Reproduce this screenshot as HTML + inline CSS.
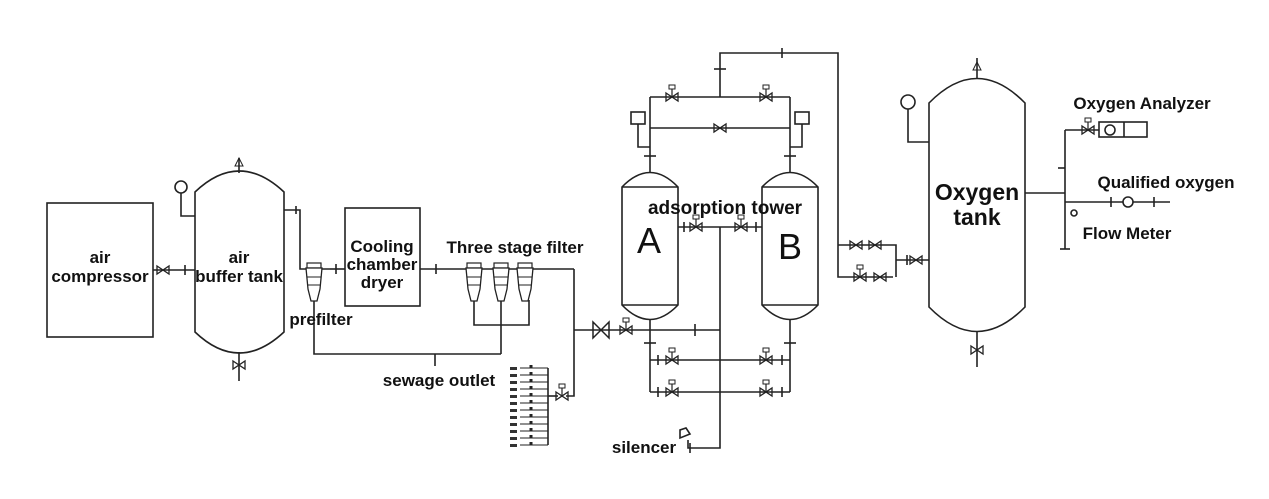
<!DOCTYPE html>
<html><head><meta charset="utf-8"><style>
html,body{margin:0;padding:0;background:#fff;}
svg{display:block;}
text{font-family:"Liberation Sans",Arial,sans-serif;font-weight:bold;fill:#111;}
</style></head><body>
<svg width="1269" height="499" viewBox="0 0 1269 499" xmlns="http://www.w3.org/2000/svg">
<defs>
<g id="v"><path d="M-6,-4 L6,4 L6,-4 L-6,4 Z" fill="none" stroke="#222" stroke-width="1.3"/></g>
<g id="av"><path d="M-6,-4 L6,4 L6,-4 L-6,4 Z" fill="none" stroke="#222" stroke-width="1.3"/><line x1="0" y1="0" x2="0" y2="-8" stroke="#222" stroke-width="1.2"/><rect x="-3" y="-12" width="6" height="4" fill="none" stroke="#222" stroke-width="1"/></g>
<g id="f"><rect x="-7" y="-6" width="14" height="5" fill="none" stroke="#222" stroke-width="1.2"/><path d="M-8,-1 L8,-1 L6,20 L3,32 L-3,32 L-6,20 Z" fill="#fff" stroke="#222" stroke-width="1.3"/><line x1="-7" y1="8" x2="7" y2="8" stroke="#222"/><line x1="-7" y1="16" x2="7" y2="16" stroke="#222"/></g>
</defs>
<g fill="none" stroke="#222" stroke-width="1.6">
<!-- air compressor -->
<rect x="47" y="203" width="106" height="134"/>
<!-- buffer tank -->
<path d="M195,192 Q239,150 284,192 L284,332 Q239,374 195,332 Z"/>
<line x1="153" y1="270" x2="195" y2="270"/>
<line x1="185" y1="265" x2="185" y2="275"/>
<line x1="239" y1="173" x2="239" y2="158"/>
<circle cx="181" cy="187" r="6"/>
<polyline points="181,193 181,216 195,216"/>
<line x1="239" y1="352" x2="239" y2="381"/>
<polyline points="284,210 300,210 300,269 330,269"/>
<line x1="296" y1="206" x2="296" y2="214"/>
<line x1="330" y1="269" x2="345" y2="269"/>
<line x1="336" y1="264" x2="336" y2="274"/>
<!-- dryer -->
<rect x="345" y="208" width="75" height="98"/>
<line x1="420" y1="269" x2="574" y2="269"/>
<line x1="436" y1="264" x2="436" y2="274"/>
<polyline points="574,269 574,396 566,396"/>
<line x1="574" y1="330" x2="720" y2="330"/>
<line x1="695" y1="324" x2="695" y2="336"/>
<!-- filter drains -->
<polyline points="474,300 474,325 529,325 529,300"/>
<line x1="501" y1="300" x2="501" y2="354"/>
<polyline points="314,300 314,354 501,354"/>
<line x1="435" y1="354" x2="435" y2="366"/>
<!-- bank -->
<line x1="548" y1="368" x2="548" y2="445"/>
<line x1="548" y1="396" x2="558" y2="396"/>
<!-- tower A / B -->
<path d="M622,187 Q650,158 678,187 L678,305 Q650,334 622,305 Z"/>
<line x1="622" y1="187" x2="678" y2="187"/><line x1="622" y1="305" x2="678" y2="305"/>
<path d="M762,187 Q790,158 818,187 L818,305 Q790,334 762,305 Z"/>
<line x1="762" y1="187" x2="818" y2="187"/><line x1="762" y1="305" x2="818" y2="305"/>
<line x1="650" y1="97" x2="650" y2="173"/>
<line x1="790" y1="97" x2="790" y2="173"/>
<line x1="650" y1="97" x2="790" y2="97"/>
<line x1="650" y1="128" x2="790" y2="128"/>
<line x1="644" y1="156" x2="656" y2="156"/><line x1="784" y1="156" x2="796" y2="156"/>
<polyline points="720,97 720,53 838,53 838,277 893,277"/>
<line x1="714" y1="69" x2="726" y2="69"/><line x1="782" y1="48" x2="782" y2="58"/>
<line x1="838" y1="245" x2="893" y2="245"/>
<polyline points="893,245 896,245 896,277"/>
<line x1="896" y1="260" x2="929" y2="260"/>
<line x1="907" y1="255" x2="907" y2="265"/>
<rect x="631" y="112" width="14" height="12"/><polyline points="638,124 638,147 650,147"/>
<rect x="795" y="112" width="14" height="12"/><polyline points="802,124 802,147 790,147"/>
<line x1="678" y1="227" x2="762" y2="227"/>
<line x1="684" y1="222" x2="684" y2="232"/><line x1="756" y1="222" x2="756" y2="232"/>
<line x1="720" y1="227" x2="720" y2="392"/>
<line x1="650" y1="319" x2="650" y2="392"/>
<line x1="790" y1="319" x2="790" y2="392"/>
<line x1="644" y1="343" x2="656" y2="343"/><line x1="784" y1="343" x2="796" y2="343"/>
<line x1="650" y1="360" x2="790" y2="360"/>
<line x1="650" y1="392" x2="790" y2="392"/>
<line x1="658" y1="355" x2="658" y2="365"/><line x1="782" y1="355" x2="782" y2="365"/>
<line x1="658" y1="387" x2="658" y2="397"/><line x1="782" y1="387" x2="782" y2="397"/>
<polyline points="720,392 720,448 688,448 688,440"/>
<line x1="690" y1="443" x2="690" y2="453"/>
<path d="M680,438 L680,430 L686,428 L690,434 Z"/>
<!-- oxygen tank -->
<path d="M929,103 Q977,54 1025,103 L1025,307 Q977,356 929,307 Z"/>
<line x1="977" y1="79" x2="977" y2="58"/>
<circle cx="908" cy="102" r="7"/>
<polyline points="908,109 908,142 929,142"/>
<line x1="977" y1="332" x2="977" y2="367"/>
<line x1="1025" y1="193" x2="1065" y2="193"/>
<line x1="1065" y1="130" x2="1065" y2="249"/>
<line x1="1060" y1="249" x2="1070" y2="249"/>
<line x1="1058" y1="168" x2="1065" y2="168"/>
<line x1="1065" y1="130" x2="1099" y2="130"/>
<rect x="1099" y="122" width="48" height="15"/>
<line x1="1124" y1="122" x2="1124" y2="137"/>
<circle cx="1110" cy="130" r="5"/>
<line x1="1065" y1="202" x2="1170" y2="202"/>
<line x1="1111" y1="197" x2="1111" y2="207"/><line x1="1154" y1="197" x2="1154" y2="207"/>
<circle cx="1128" cy="202" r="5" fill="#fff"/>
<circle cx="1074" cy="213" r="3"/>
</g>
<!-- filters -->
<use href="#f" x="314" y="269"/>
<use href="#f" x="474" y="269"/>
<use href="#f" x="501" y="269"/>
<use href="#f" x="525" y="269"/>
<!-- valves -->
<use href="#v" x="163" y="270"/>
<path d="M593,322 L609,338 L609,322 L593,338 Z" fill="none" stroke="#222" stroke-width="1.5"/>
<use href="#av" x="626" y="330"/>
<use href="#av" x="672" y="97"/><use href="#av" x="766" y="97"/>
<use href="#v" x="720" y="128"/>
<use href="#av" x="696" y="227"/><use href="#av" x="741" y="227"/>
<use href="#av" x="672" y="360"/><use href="#av" x="766" y="360"/>
<use href="#av" x="672" y="392"/><use href="#av" x="766" y="392"/>
<use href="#v" x="856" y="245"/><use href="#v" x="875" y="245"/>
<use href="#av" x="860" y="277"/><use href="#v" x="880" y="277"/>
<use href="#v" x="916" y="260"/>
<use href="#av" x="562" y="396"/>
<use href="#av" x="1088" y="130"/>
<use href="#v" x="977" y="350"/>
<use href="#v" x="239" y="365"/>
<path d="M973,70 L981,70 L977,62 Z" fill="none" stroke="#222"/>
<path d="M235,166 L243,166 L239,158 Z" fill="none" stroke="#222"/>
<!-- bank rows -->
<g stroke="#222" stroke-width="1">
<line x1="520" y1="368" x2="548" y2="368"/><line x1="520" y1="375" x2="548" y2="375"/>
<line x1="520" y1="382" x2="548" y2="382"/><line x1="520" y1="389" x2="548" y2="389"/>
<line x1="520" y1="396" x2="548" y2="396"/><line x1="520" y1="403" x2="548" y2="403"/>
<line x1="520" y1="410" x2="548" y2="410"/><line x1="520" y1="417" x2="548" y2="417"/>
<line x1="520" y1="424" x2="548" y2="424"/><line x1="520" y1="431" x2="548" y2="431"/>
<line x1="520" y1="438" x2="548" y2="438"/><line x1="520" y1="445" x2="548" y2="445"/>
<line x1="531" y1="365" x2="531" y2="448" stroke-width="3" stroke-dasharray="3,4"/>
</g>
<g fill="#333">
<rect x="510" y="367" width="7" height="3"/><rect x="510" y="374" width="7" height="3"/><rect x="510" y="381" width="7" height="3"/><rect x="510" y="388" width="7" height="3"/><rect x="510" y="395" width="7" height="3"/><rect x="510" y="402" width="7" height="3"/><rect x="510" y="409" width="7" height="3"/><rect x="510" y="416" width="7" height="3"/><rect x="510" y="423" width="7" height="3"/><rect x="510" y="430" width="7" height="3"/><rect x="510" y="437" width="7" height="3"/><rect x="510" y="444" width="7" height="3"/>
</g>
<!-- labels -->
<g font-size="17" text-anchor="middle">
<text x="100" y="263">air</text>
<text x="100" y="282">compressor</text>
<text x="239" y="263">air</text>
<text x="239" y="282">buffer tank</text>
<text x="382" y="252">Cooling</text>
<text x="382" y="270">chamber</text>
<text x="382" y="288">dryer</text>
<text x="515" y="253">Three stage filter</text>
<text x="321" y="325">prefilter</text>
<text x="439" y="386">sewage outlet</text>
<text x="644" y="453">silencer</text>
<text x="1142" y="109">Oxygen Analyzer</text>
<text x="1166" y="188">Qualified oxygen</text>
<text x="1127" y="239">Flow Meter</text>
</g>
<text x="725" y="214" font-size="19" text-anchor="middle">adsorption tower</text>
<text x="649" y="253" font-size="36" font-weight="normal" text-anchor="middle" style="font-weight:normal">A</text>
<text x="790" y="259" font-size="36" text-anchor="middle" style="font-weight:normal">B</text>
<text x="977" y="200" font-size="23" text-anchor="middle">Oxygen</text>
<text x="977" y="225" font-size="23" text-anchor="middle">tank</text>
</svg>
</body></html>
